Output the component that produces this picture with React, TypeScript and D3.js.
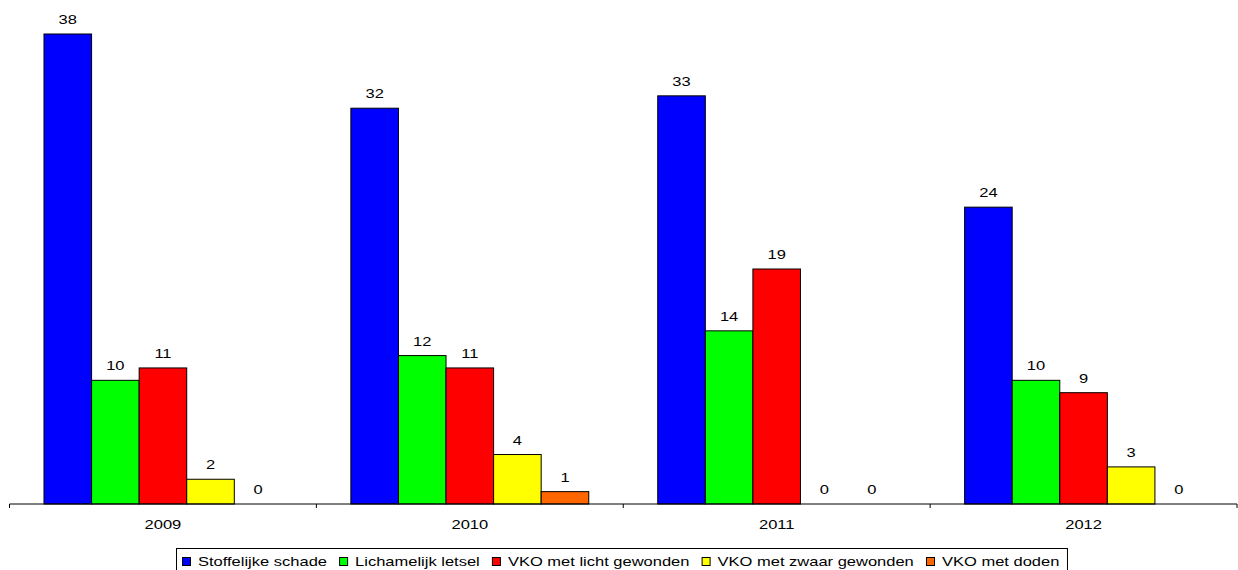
import React, { useMemo } from "react";
import * as d3 from "d3";

const years = ["2009", "2010", "2011", "2012"];
const seriesNames = [
  "Stoffelijke schade",
  "Lichamelijk letsel",
  "VKO met licht gewonden",
  "VKO met zwaar gewonden",
  "VKO met doden",
];
const seriesColors = ["#0000FF", "#00FF00", "#FF0000", "#FFFF00", "#FF6600"];
const stoffelijke = [38, 32, 33, 24];
const lichamelijk = [10, 12, 14, 10];
const lichtGewonden = [11, 11, 19, 9];
const zwaarGewonden = [2, 4, 0, 3];
const doden = [0, 1, 0, 0];
const seriesValues = [stoffelijke, lichamelijk, lichtGewonden, zwaarGewonden, doden];

const W = 1238;
const H = 570;
const FONT = "'Liberation Sans', Arial, sans-serif";
const SX = 1.27;

export default function App() {
  const left = 9.5;
  const right = 1237;
  const base = 504;
  const x0 = d3.scaleBand<string>().domain(years).range([left, right]).padding(0);
  const x1 = d3
    .scaleBand<string>()
    .domain(seriesNames)
    .range([0, x0.bandwidth()])
    .paddingInner(0)
    .paddingOuter(0.725);
  const y = d3.scaleLinear().domain([0, 38]).range([base, 34]);

  const legend = useMemo(() => {
    const c = document.createElement("canvas").getContext("2d")!;
    c.font = "13px 'Liberation Sans', Arial, sans-serif";
    let cx = 182;
    return seriesNames.map((n, i) => {
      const w = c.measureText(n).width * SX;
      const item = { x: cx, w, name: n, color: seriesColors[i] };
      cx += 16 + w + 12;
      return item;
    });
  }, []);
  const legendRight = legend[legend.length - 1].x + 16 + legend[legend.length - 1].w + 8;

  const tickXs = [left, ...years.map((yr) => (x0(yr) as number) + x0.bandwidth())];

  return (
    <svg
      width={W}
      height={H}
      style={{ position: "absolute", left: 0, top: 0, background: "#fff" }}
      fontFamily={FONT}
      fontSize={13}
    >
      {years.map((yr, yi) =>
        seriesNames.map((s, si) => {
          const v = seriesValues[si][yi];
          const bx = (x0(yr) as number) + (x1(s) as number);
          const bw = x1.bandwidth();
          const top = y(v);
          return (
            <g key={yr + s}>
              {v > 0 && (
                <rect
                  x={bx}
                  y={top}
                  width={bw}
                  height={base - top}
                  fill={seriesColors[si]}
                  stroke="#000"
                  strokeWidth={1}
                />
              )}
              <text
                transform={`translate(${bx + bw / 2},${top - 10}) scale(${SX},1)`}
                textAnchor="middle"
                fill="#000"
              >
                {v}
              </text>
            </g>
          );
        })
      )}
      <line x1={left} x2={right} y1={base} y2={base} stroke="#000" strokeWidth={1} />
      {tickXs.map((tx, i) => (
        <line key={i} x1={tx} x2={tx} y1={base} y2={base + 4} stroke="#000" strokeWidth={1} />
      ))}
      {years.map((yr) => (
        <text
          key={yr}
          transform={`translate(${(x0(yr) as number) + x0.bandwidth() / 2},529) scale(${SX},1)`}
          textAnchor="middle"
          fill="#000"
        >
          {yr}
        </text>
      ))}
      <rect
        x={176.5}
        y={548.5}
        width={legendRight - 176.5}
        height={40}
        fill="#fff"
        stroke="#000"
        strokeWidth={1}
      />
      {legend.map((it) => (
        <g key={it.name}>
          <rect x={it.x + 0.5} y={557.5} width={8} height={8} fill={it.color} stroke="#000" strokeWidth={1} />
          <text transform={`translate(${it.x + 16},566) scale(${SX},1)`} fill="#000">
            {it.name}
          </text>
        </g>
      ))}
    </svg>
  );
}
